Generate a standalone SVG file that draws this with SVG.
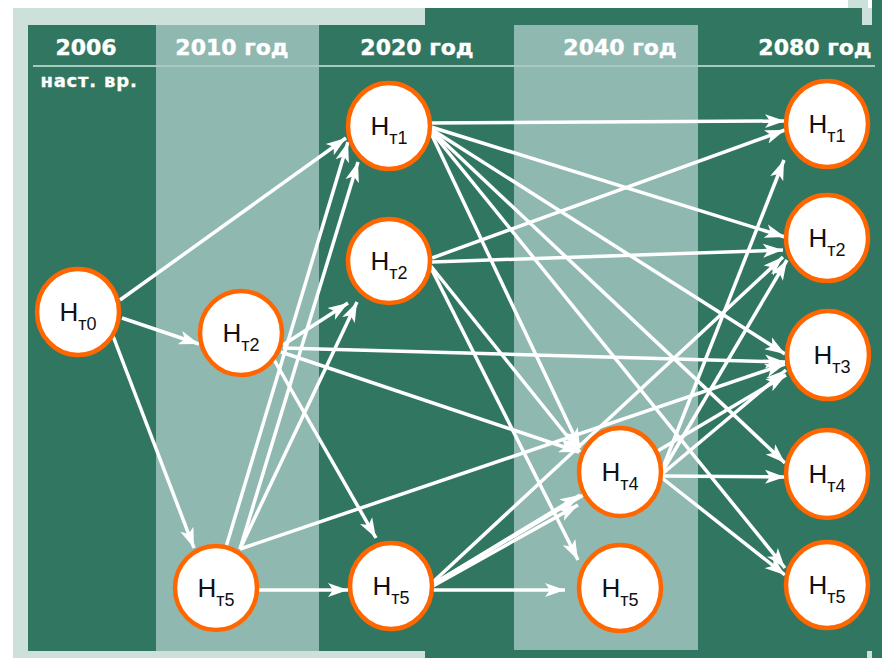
<svg xmlns="http://www.w3.org/2000/svg" width="882" height="658" viewBox="0 0 882 658">
<defs>
<style>
.dark{fill:#317660}
.light{fill:#8fb8b1}
.frame{fill:#cde0da}
.hdr{font-family:"DejaVu Sans",sans-serif;font-weight:bold;font-size:22px;fill:#ffffff;text-anchor:middle;stroke:#ffffff;stroke-width:0.4}
.sub{font-family:"DejaVu Sans",sans-serif;font-weight:bold;font-size:18px;fill:#ffffff;text-anchor:middle;stroke:#ffffff;stroke-width:0.3}
.node ellipse{fill:#ffffff;stroke:#ff6600;stroke-width:4.5}
.node text{font-family:"Liberation Sans",Arial,sans-serif;font-size:26px;fill:#111111;text-anchor:middle}
.node tspan{font-size:18px}
.edges line{stroke:#ffffff;stroke-width:3.5;marker-end:url(#arr)}
</style>
<marker id="arr" markerUnits="userSpaceOnUse" markerWidth="24" markerHeight="16" refX="20" refY="7" orient="auto" viewBox="0 0 24 14">
<path d="M0,0 L20,7 L0,14 L5,7 Z" fill="#ffffff"/>
</marker>
</defs>
<rect x="0" y="0" width="882" height="658" fill="#ffffff"/>
<rect class="frame" x="13" y="8" width="430" height="650"/>
<rect class="dark" x="425" y="8" width="457" height="650"/>
<rect class="dark" x="872" y="0" width="10" height="8"/>
<rect class="frame" x="848" y="0" width="20" height="8"/>
<rect class="frame" x="862" y="8" width="10" height="17"/>
<rect class="frame" x="867" y="651" width="5" height="7"/>
<rect class="dark" x="28" y="25" width="128" height="626"/>
<rect class="light" x="156" y="25" width="163" height="626"/>
<rect class="dark" x="319" y="25" width="195" height="626"/>
<rect class="light" x="514" y="25" width="184" height="625"/>
<line x1="33" y1="66" x2="875" y2="66" stroke="#a8c9bd" stroke-width="2"/>
<g id="headers">
<text class="hdr" x="86" y="55">2006</text>
<text class="sub" x="89" y="87" letter-spacing="0.8">наст. вр.</text>
<text class="hdr" x="232" y="55">2010 год</text>
<text class="hdr" x="417" y="55">2020 год</text>
<text class="hdr" x="620" y="55">2040 год</text>
<text class="hdr" x="815" y="55">2080 год</text>
</g>
<g class="edges" id="connectors">
<line x1="120" y1="300" x2="346" y2="138"/>
<line x1="122" y1="318" x2="199" y2="344"/>
<line x1="113" y1="336" x2="194" y2="548"/>
<line x1="283" y1="345" x2="348" y2="303"/>
<line x1="283" y1="348" x2="785" y2="362"/>
<line x1="281" y1="352" x2="579" y2="452"/>
<line x1="273" y1="358" x2="376" y2="538"/>
<line x1="226" y1="547" x2="348" y2="142"/>
<line x1="240" y1="549" x2="358" y2="162"/>
<line x1="240" y1="549" x2="357" y2="302"/>
<line x1="240" y1="549" x2="785" y2="364"/>
<line x1="258" y1="590" x2="348" y2="590"/>
<line x1="431" y1="123" x2="785" y2="121"/>
<line x1="431" y1="127" x2="785" y2="237"/>
<line x1="431" y1="129" x2="785" y2="354"/>
<line x1="431" y1="130" x2="785" y2="463"/>
<line x1="431" y1="131" x2="785" y2="568"/>
<line x1="430" y1="131" x2="580" y2="448"/>
<line x1="432" y1="258" x2="785" y2="130"/>
<line x1="432" y1="262" x2="783" y2="250"/>
<line x1="430" y1="265" x2="580" y2="452"/>
<line x1="430" y1="266" x2="578" y2="560"/>
<line x1="662" y1="470" x2="784" y2="160"/>
<line x1="662" y1="472" x2="787" y2="260"/>
<line x1="662" y1="474" x2="786" y2="370"/>
<line x1="662" y1="476" x2="785" y2="477"/>
<line x1="662" y1="478" x2="785" y2="575"/>
<line x1="433" y1="590" x2="565" y2="590"/>
<line x1="433" y1="586" x2="578" y2="505"/>
<line x1="433" y1="584" x2="580" y2="495"/>
<line x1="433" y1="582" x2="783" y2="257"/>
<line x1="433" y1="584" x2="786" y2="375"/>
</g>
<g id="n_t0_2006" class="node"><ellipse cx="78" cy="312" rx="41" ry="43"/><text x="78" y="321">H<tspan dy="9">т0</tspan></text></g>
<g id="n_t2_2010" class="node"><ellipse cx="241" cy="333" rx="41" ry="42"/><text x="241" y="342">H<tspan dy="9">т2</tspan></text></g>
<g id="n_t5_2010" class="node"><ellipse cx="216" cy="588" rx="41" ry="42"/><text x="216" y="597">H<tspan dy="9">т5</tspan></text></g>
<g id="n_t1_2020" class="node"><ellipse cx="389" cy="126" rx="41" ry="43"/><text x="389" y="135">H<tspan dy="9">т1</tspan></text></g>
<g id="n_t2_2020" class="node"><ellipse cx="389" cy="261" rx="41" ry="42"/><text x="389" y="270">H<tspan dy="9">т2</tspan></text></g>
<g id="n_t5_2020" class="node"><ellipse cx="391" cy="586" rx="41" ry="43"/><text x="391" y="595">H<tspan dy="9">т5</tspan></text></g>
<g id="n_t4_2040" class="node"><ellipse cx="620" cy="472" rx="41" ry="44"/><text x="620" y="481">H<tspan dy="9">т4</tspan></text></g>
<g id="n_t5_2040" class="node"><ellipse cx="620" cy="588" rx="41" ry="43"/><text x="620" y="597">H<tspan dy="9">т5</tspan></text></g>
<g id="n_t1_2080" class="node"><ellipse cx="827" cy="124" rx="41" ry="43"/><text x="827" y="133">H<tspan dy="9">т1</tspan></text></g>
<g id="n_t2_2080" class="node"><ellipse cx="827" cy="238" rx="41" ry="43"/><text x="827" y="247">H<tspan dy="9">т2</tspan></text></g>
<g id="n_t3_2080" class="node"><ellipse cx="828" cy="355" rx="41" ry="44"/><text x="832" y="364">H<tspan dy="9">т3</tspan></text></g>
<g id="n_t4_2080" class="node"><ellipse cx="827" cy="474" rx="41" ry="44"/><text x="827" y="483">H<tspan dy="9">т4</tspan></text></g>
<g id="n_t5_2080" class="node"><ellipse cx="827" cy="585" rx="41" ry="43"/><text x="827" y="594">H<tspan dy="9">т5</tspan></text></g>
</svg>
